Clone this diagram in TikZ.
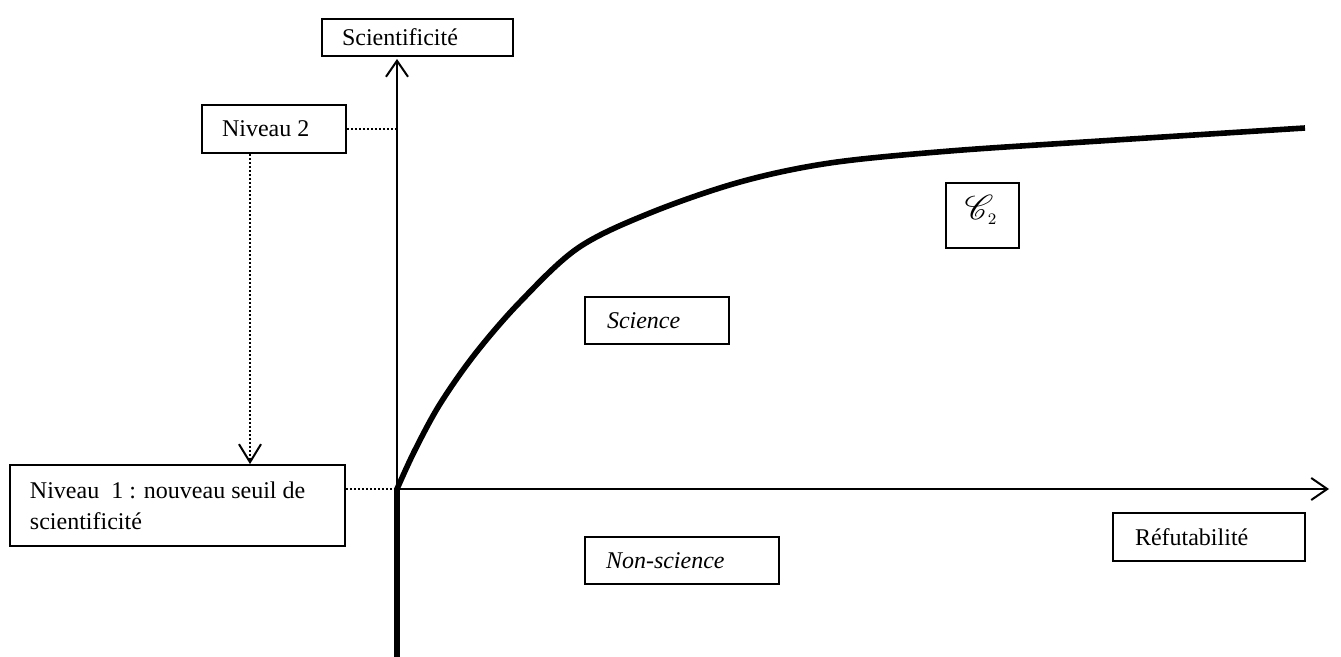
\documentclass[tikz,border=0pt]{standalone}
\usepackage{mathrsfs}
\usepackage{fontspec}
\setmainfont{Liberation Serif}
\usetikzlibrary{arrows.meta}
\tikzset{
  box/.style={draw, line width=0.9pt, align=flush left, inner ysep=0pt, font=\fontsize{12}{15.5}\selectfont},
  thin/.style={line width=1pt},
  thick/.style={line width=2.8pt},
  dots/.style={line width=1pt, dash pattern=on 1pt off 1pt},
  tip/.style={-{Straight Barb[length=8pt,width=11pt,line width=1pt]}}
}
\begin{document}
\begin{tikzpicture}[x=0.5pt,y=-0.5pt]
\useasboundingbox (0,0) rectangle (1341,657);
% axes
\coordinate (O) at (397,489);
\coordinate (ytop) at (397,59);
\coordinate (ybot) at (397,657);
\coordinate (xend) at (1329,489);
\draw[thin,tip] (O) -- (ytop);
\draw[thin,tip] (O) -- (xend);
\draw[line width=3pt] (O) -- (ybot);
% curve
\draw[thick, line join=round] plot[smooth, tension=0.55] coordinates {(397,489) (415,450) (440,404) (475,354) (520,302) (578,248) (650,213) (740,182) (830,163) (950,151) (1100,141) (1305,128)};
% boxes
\node[box, minimum width=95.5pt, minimum height=18.5pt, text width=75.5pt, inner xsep=10pt] (sci) at (417.5,37.5) {Scientificit\'e};
\node[box, minimum width=72pt, minimum height=24pt, text width=52pt, inner xsep=10pt] (n2) at (274,129) {Niveau 2};
\node[box, minimum width=167.5pt, minimum height=40.5pt, text width=147.5pt, inner xsep=10pt] (n1) at (177.5,505.5) {Niveau\ \ 1 : nouveau seuil de\\scientificit\'e};
\node[box, minimum width=72pt, minimum height=23.5pt, text width=50pt, inner xsep=11pt] (science) at (657,320.5) {\itshape Science};
\node[box, minimum width=97pt, minimum height=23.5pt, text width=76pt, inner xsep=10.5pt] (nonsci) at (682,560.5) {\itshape Non-science};
\node[box, minimum width=96pt, minimum height=24pt, text width=74pt, inner xsep=11pt] (refut) at (1209,537) {R\'efutabilit\'e};
\node[draw, line width=0.9pt, minimum width=36.5pt, minimum height=32.5pt, inner sep=0pt] (c2) at (982.5,215.5) {};
\node (c2t) at (981,210) {\fontsize{17}{19}\selectfont$\mathscr{C}_{\scriptscriptstyle 2}$};
% dotted connectors
\coordinate (ax2) at (397,129);
\coordinate (dx) at (250,0);
\draw[dots] (n2.east) -- (ax2);
\draw[dots] (n1.east |- O) -- (O);
\draw[dots, -{Straight Barb[length=9pt,width=11pt,line width=1pt]}] (n2.south -| dx) -- (n1.north -| dx);
\end{tikzpicture}
\end{document}
